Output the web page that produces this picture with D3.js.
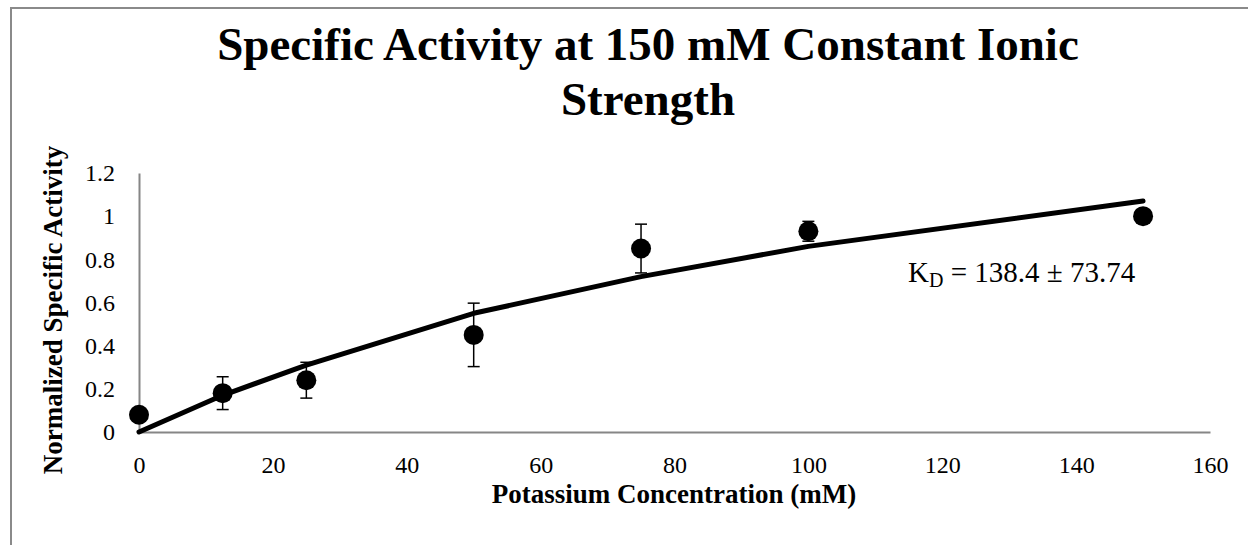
<!DOCTYPE html>
<html>
<head>
<meta charset="utf-8">
<script src="https://cdn.jsdelivr.net/npm/d3@7"></script>
<style>
  body { margin: 0; background: #fff; }
  svg { display: block; font-family: "Liberation Serif", "Times New Roman", serif; }
</style>
</head>
<body>
<div id="chart"></div>
<script>
// potassium concentration (mM)
var conc = [0, 12.5, 25, 50, 75, 100, 150];
// normalized specific activity and its error
var activity = [0.08, 0.18, 0.24, 0.45, 0.85, 0.93, 1.00];
var errors = [0, 0.076, 0.083, 0.147, 0.113, 0.046, 0.01];
// fitted curve values at each concentration
var fitValues = [0, 0.17, 0.31, 0.55, 0.72, 0.86, 1.07];
var xTicks = [0, 20, 40, 60, 80, 100, 120, 140, 160];
var yTicks = [0, 0.2, 0.4, 0.6, 0.8, 1, 1.2];

var width = 1248;
var height = 545;
var axisColor = '#868686';

var svg = d3.select('#chart')
  .append('svg')
  .attr('width', width)
  .attr('height', height);

// outer chart border (cut off at right and bottom)
svg.append('rect')
  .attr('x', 11)
  .attr('y', 8)
  .attr('width', width + 20)
  .attr('height', height + 20)
  .attr('fill', 'none')
  .attr('stroke', '#8a8a8a')
  .attr('stroke-width', 2);

var x = d3.scaleLinear().domain([0, 160]).range([139, 1210]);
var y = d3.scaleLinear().domain([0, 1.2]).range([432, 173]);

var xAxis = svg.append('g')
  .attr('transform', 'translate(0,' + y(0) + ')')
  .call(d3.axisBottom(x).tickValues(xTicks).tickSize(0).tickPadding(24)
    .tickFormat(d3.format('d')));

var yAxis = svg.append('g')
  .attr('transform', 'translate(' + x(0) + ',0)')
  .call(d3.axisLeft(y).tickValues(yTicks).tickSize(0).tickPadding(24)
    .tickFormat(function(d) { return d3.format('')(+d.toFixed(1)); }));

[xAxis, yAxis].forEach(function(ax) {
  ax.select('.domain').attr('stroke', axisColor).attr('stroke-width', 2);
  ax.selectAll('text')
    .attr('fill', '#000')
    .style('font-family', '"Liberation Serif", serif')
    .style('font-size', '24px');
});

var points = conc.map(function(c, i) {
  return { x: c, y: activity[i], err: errors[i], fit: fitValues[i] };
});

// fitted line
var line = d3.line()
  .x(function(d) { return x(d.x); })
  .y(function(d) { return y(d.fit); });

svg.append('path')
  .datum(points)
  .attr('d', line)
  .attr('fill', 'none')
  .attr('stroke', '#000')
  .attr('stroke-width', 5)
  .attr('stroke-linecap', 'round')
  .attr('stroke-linejoin', 'round');

// error bars
var bars = svg.selectAll('.err')
  .data(points.filter(function(d) { return d.err > 0; }))
  .enter()
  .append('g')
  .attr('class', 'err')
  .attr('stroke', '#000')
  .attr('stroke-width', 1.5);

bars.append('line')
  .attr('x1', function(d) { return x(d.x); })
  .attr('x2', function(d) { return x(d.x); })
  .attr('y1', function(d) { return y(d.y - d.err); })
  .attr('y2', function(d) { return y(d.y + d.err); });

[-1, 1].forEach(function(s) {
  bars.append('line')
    .attr('x1', function(d) { return x(d.x) - 6; })
    .attr('x2', function(d) { return x(d.x) + 6; })
    .attr('y1', function(d) { return y(d.y + s * d.err); })
    .attr('y2', function(d) { return y(d.y + s * d.err); });
});

// markers
svg.selectAll('.dot')
  .data(points)
  .enter()
  .append('circle')
  .attr('class', 'dot')
  .attr('cx', function(d) { return x(d.x); })
  .attr('cy', function(d) { return y(d.y); })
  .attr('r', 10)
  .attr('fill', '#000');

// title
var title = svg.append('text')
  .attr('text-anchor', 'middle')
  .attr('font-weight', 'bold')
  .attr('font-size', 47);
title.append('tspan').attr('x', 648).attr('y', 60)
  .text('Specific Activity at 150 mM Constant Ionic');
title.append('tspan').attr('x', 648).attr('y', 115)
  .text('Strength');

// axis titles
svg.append('text')
  .attr('x', 674)
  .attr('y', 503)
  .attr('text-anchor', 'middle')
  .attr('font-weight', 'bold')
  .attr('font-size', 27)
  .text('Potassium Concentration (mM)');

svg.append('text')
  .attr('transform', 'translate(62,310) rotate(-90)')
  .attr('text-anchor', 'middle')
  .attr('font-weight', 'bold')
  .attr('font-size', 27)
  .text('Normalized Specific Activity');

// KD annotation
var kd = svg.append('text')
  .attr('x', 908)
  .attr('y', 282)
  .attr('font-size', 29);
kd.append('tspan').text('K');
kd.append('tspan').attr('font-size', 20).attr('dy', 5).text('D');
kd.append('tspan').attr('dy', -5).text(' = 138.4 \u00b1 73.74');
</script>
</body>
</html>
